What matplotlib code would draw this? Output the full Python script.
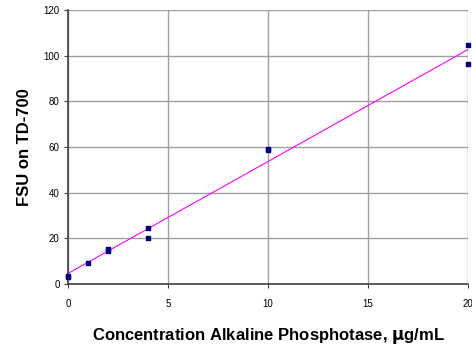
import matplotlib
matplotlib.use("Agg")
import matplotlib.pyplot as plt
import numpy as np

plt.rcParams['font.family'] = ['Liberation Sans', 'DejaVu Sans']

# concentration (ug/mL) and fluorescence readings
conc = [0, 0, 1, 2, 2, 4, 4, 10, 10, 20, 20]
fsu = [3.0, 3.5, 9.0, 14.5, 15.2, 24.5, 20.0, 58.5, 59.2, 104.5, 96.5]
xticks = [0, 5, 10, 15, 20]
yticks = [0, 20, 40, 60, 80, 100, 120]

fig = plt.figure(figsize=(4.72, 3.47), dpi=100)
ax = fig.add_axes([0.144, 0.182, 0.848, 0.789])

# linear trend line
slope, icpt = np.polyfit(conc, fsu, 1)
xl = np.array([0, 20])
ax.plot(xl, slope * xl + icpt, color='#ff00ff', lw=0.8, zorder=2)

ax.scatter(conc, fsu, marker='s', s=12, color='#000080', zorder=3, clip_on=False)

ax.set_xlim(0, 20)
ax.set_ylim(0, 120)
ax.set_xticks(xticks)
ax.set_yticks(yticks)
ax.grid(True, color='#a0a0a0', lw=1)
ax.set_axisbelow(True)
for s in ['top', 'right']:
    ax.spines[s].set_visible(False)
for s in ['left', 'bottom']:
    ax.spines[s].set_color('#404040')
    ax.spines[s].set_linewidth(1.2)
ax.tick_params(labelsize=7, length=3, color='#404040', pad=8)
ax.tick_params(axis='y', pad=3)

ax.set_xlabel('Concentration Alkaline Phosphotase, $\\mathbf{\\mu}$g/mL',
              fontsize=12, fontweight='bold', labelpad=12)
ax.set_ylabel('FSU on TD-700', fontsize=12, fontweight='bold', labelpad=8)

fig.savefig('out.png', dpi=100)
